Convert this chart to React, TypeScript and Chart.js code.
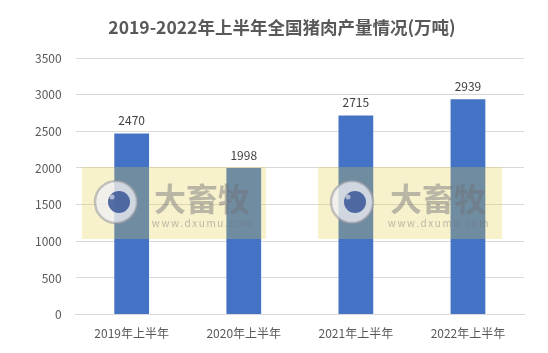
import React, { useEffect, useRef } from "react";
import { Chart, registerables } from "chart.js";

Chart.register(...registerables);

const categories = ["2019年上半年", "2020年上半年", "2021年上半年", "2022年上半年"];
const production = [2470, 1998, 2715, 2939];
const titleText = "2019-2022年上半年全国猪肉产量情况(万吨)";

const FONT = '"Noto Sans CJK SC", "Noto Sans", sans-serif';

const labelPlugin = {
  id: "valueLabels",
  afterDatasetsDraw(chart: any) {
    const ctx = chart.ctx;
    const meta = chart.getDatasetMeta(0);
    ctx.save();
    ctx.font = `12px ${FONT}`;
    ctx.fillStyle = "#404040";
    ctx.textAlign = "center";
    ctx.textBaseline = "middle";
    meta.data.forEach((bar: any, i: number) => {
      ctx.fillText(String(production[i]), bar.x, bar.y - 13);
    });
    ctx.restore();
  },
};

const titlePlugin = {
  id: "shiftedTitle",
  afterDraw(chart: any) {
    const ctx = chart.ctx;
    const tb = chart.titleBlock;
    const top = tb ? tb.top : 2;
    ctx.save();
    ctx.font = `bold 17.5px ${FONT}`;
    ctx.fillStyle = "#595959";
    ctx.textAlign = "center";
    ctx.textBaseline = "middle";
    ctx.fillText(titleText, chart.width / 2 + 8, top + 6 + 10.5 + 1);
    ctx.restore();
  },
};

const watermarkPlugin = {
  id: "watermark",
  afterDatasetsDraw(chart: any) {
    const ctx = chart.ctx;
    const boxes = [
      [74, 159],
      [310, 159],
    ];
    boxes.forEach(([bx, by]) => {
      const w = 184;
      const h = 72;
      ctx.save();
      ctx.fillStyle = "rgba(225,210,70,0.28)";
      ctx.fillRect(bx, by, w, h);
      const cx = bx + 34;
      const cy = by + 35;
      ctx.beginPath();
      ctx.arc(cx, cy, 21, 0, Math.PI * 2);
      ctx.fillStyle = "rgba(240,240,245,0.75)";
      ctx.fill();
      ctx.lineWidth = 2.5;
      ctx.strokeStyle = "rgba(150,150,160,0.55)";
      ctx.stroke();
      ctx.beginPath();
      ctx.arc(cx + 3, cy, 11, 0, Math.PI * 2);
      ctx.fillStyle = "rgba(55,85,150,0.85)";
      ctx.fill();
      ctx.beginPath();
      ctx.arc(cx - 4, cy - 5, 2.5, 0, Math.PI * 2);
      ctx.fillStyle = "rgba(200,205,220,0.8)";
      ctx.fill();
      ctx.fillStyle = "rgba(110,110,120,0.45)";
      ctx.textAlign = "center";
      ctx.textBaseline = "middle";
      ctx.font = `bold 32px ${FONT}`;
      ctx.fillText("大畜牧", bx + 120, by + 32);
      ctx.font = `10px ${FONT}`;
      (ctx as any).letterSpacing = "1.6px";
      ctx.fillText("www.dxumu.com", bx + 121, by + 56);
      ctx.restore();
    });
  },
};

export default function App() {
  const ref = useRef<HTMLCanvasElement>(null);
  useEffect(() => {
    if (!ref.current) return;
    const chart = new Chart(ref.current, {
      type: "bar",
      data: {
        labels: categories,
        datasets: [
          {
            data: production,
            backgroundColor: "#4472C4",
            categoryPercentage: 1,
            barPercentage: 0.31,
          },
        ],
      },
      options: {
        animation: false,
        responsive: true,
        maintainAspectRatio: false,
        layout: { padding: { left: 13, right: 16, top: 2, bottom: 8 } },
        plugins: {
          legend: { display: false },
          tooltip: { enabled: false },
          title: {
            display: true,
            text: titleText,
            color: "rgba(0,0,0,0)",
            font: { family: FONT, size: 17.5, weight: "bold" },
            padding: { top: 6, bottom: 21 },
          },
        },
        scales: {
          x: {
            grid: { display: false },
            border: { color: "#d9d9d9" },
            ticks: {
              color: "#595959",
              font: { family: FONT, size: 12 },
              padding: 4,
            },
          },
          y: {
            min: 0,
            max: 3500,
            border: { display: false },
            grid: { color: "#d9d9d9", drawTicks: false },
            ticks: {
              stepSize: 500,
              color: "#595959",
              font: { family: FONT, size: 12 },
              padding: 14,
              callback: (v: any) => String(v),
            },
          },
        },
      },
      plugins: [watermarkPlugin, labelPlugin, titlePlugin],
    });
    return () => chart.destroy();
  }, []);
  return (
    <div style={{ width: 532, height: 345 }}>
      <canvas ref={ref} />
    </div>
  );
}
